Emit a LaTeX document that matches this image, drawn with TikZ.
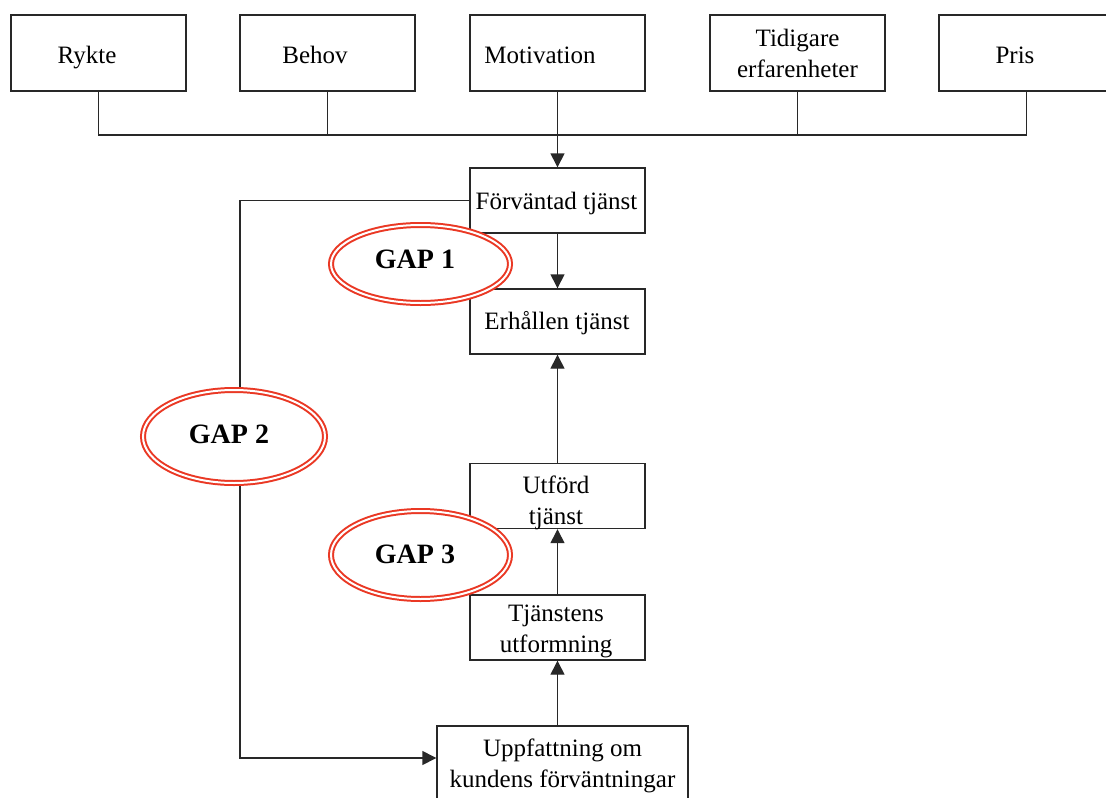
\documentclass[tikz,border=0pt]{standalone}
\usepackage{fontspec}
\setmainfont{Liberation Serif}
\usetikzlibrary{arrows.meta,shapes.geometric}
\definecolor{gapred}{RGB}{234,56,36}
\definecolor{linegray}{RGB}{40,40,40}
\begin{document}
\begin{tikzpicture}[x=1pt,y=-1pt,
  box/.style={draw=linegray, line width=1.4pt, fill=white, minimum width=175pt,
    minimum height=65pt, inner sep=0pt},
  topbox/.style={box, minimum height=76pt},
  txt/.style={inner sep=0pt, align=center, font=\fontsize{25}{31}\selectfont},
  link/.style={draw=linegray, line width=1.4pt},
  arr/.style={link, -{Triangle[length=14pt,width=14pt]}},
  gap/.style={ellipse, draw=gapred, line width=2pt, double=white,
    double distance=2pt, fill=white, inner sep=0pt},
  gaptxt/.style={inner sep=0pt, anchor=base, font=\fontsize{28}{32}\selectfont\bfseries},
]
\clip (0,0) rectangle (1106,798);
\fill[white] (0,0) rectangle (1106,798);

% influencing factors
\node[topbox] (rykte)      at (98.5,53)   {};
\node[topbox] (behov)      at (327.5,53)  {};
\node[topbox] (motivation) at (557.5,53)  {};
\node[topbox] (tidigare)   at (797.5,53)  {};
\node[topbox] (pris)       at (1026.5,53) {};
\node[txt, anchor=base] (rykte-t)      at (87,63)    {Rykte};
\node[txt, anchor=base] (behov-t)      at (315,63)   {Behov};
\node[txt, anchor=base] (motivation-t) at (540,63)   {Motivation};
\node[txt]              (tidigare-t)   at (797.5,53.5) {Tidigare\\erfarenheter};
\node[txt, anchor=base] (pris-t)       at (1015,63)  {Pris};

% service chain
\node[box] (forvantad) at (557.5,200.5) {};
\node[box] (erhallen)  at (557.5,321.5) {};
\node[box] (utford)    at (557.5,496)   {};
\node[box] (tjanstens) at (557.5,627.5) {};
\node[box, minimum width=251pt, minimum height=80pt] (uppfattning) at (562.5,766) {};
\node[txt, anchor=base] (forvantad-t) at (556.5,209) {Förväntad tjänst};
\node[txt, anchor=base] (erhallen-t)  at (557,329)   {Erhållen tjänst};
\node[txt] (utford-t)      at (556,503)   {Utförd\\tjänst};
\node[txt] (tjanstens-t)   at (556,631)   {Tjänstens\\utformning};
\node[txt] (uppfattning-t) at (562.5,766) {Uppfattning om\\kundens förväntningar};

% collecting bus from the factors
\coordinate (bus) at (557.5,135);
\draw[link] (rykte.south) |- (bus) -| (pris.south);
\draw[link] (behov.south) -- (behov.south |- bus);
\draw[link] (tidigare.south) -- (tidigare.south |- bus);
\draw[arr] (motivation.south) -- (forvantad.north);

% vertical flow
\draw[arr] (forvantad.south) -- (erhallen.north);
\draw[arr] (utford.north) -- (erhallen.south);
\draw[arr] (tjanstens.north) -- (utford.south);
\draw[arr] (tjanstens.south |- uppfattning.north) -- (tjanstens.south);

% left loop
\coordinate (looptop) at (240,200.5);
\coordinate (loopbot) at (240,758);
\draw[arr] (forvantad.west) -- (looptop) -- (loopbot) -- (loopbot -| uppfattning.west);

% gaps
\node[gap, minimum width=179pt, minimum height=78pt] (gap1) at (420.5,264)   {};
\node[gap, minimum width=182pt, minimum height=93pt] (gap2) at (234,436.5)   {};
\node[gap, minimum width=179pt, minimum height=88pt] (gap3) at (420.5,555)   {};
\node[gaptxt] (gap1-t) at (415,268) {GAP 1};
\node[gaptxt] (gap2-t) at (229,443) {GAP 2};
\node[gaptxt] (gap3-t) at (415,563) {GAP 3};
\end{tikzpicture}
\end{document}
